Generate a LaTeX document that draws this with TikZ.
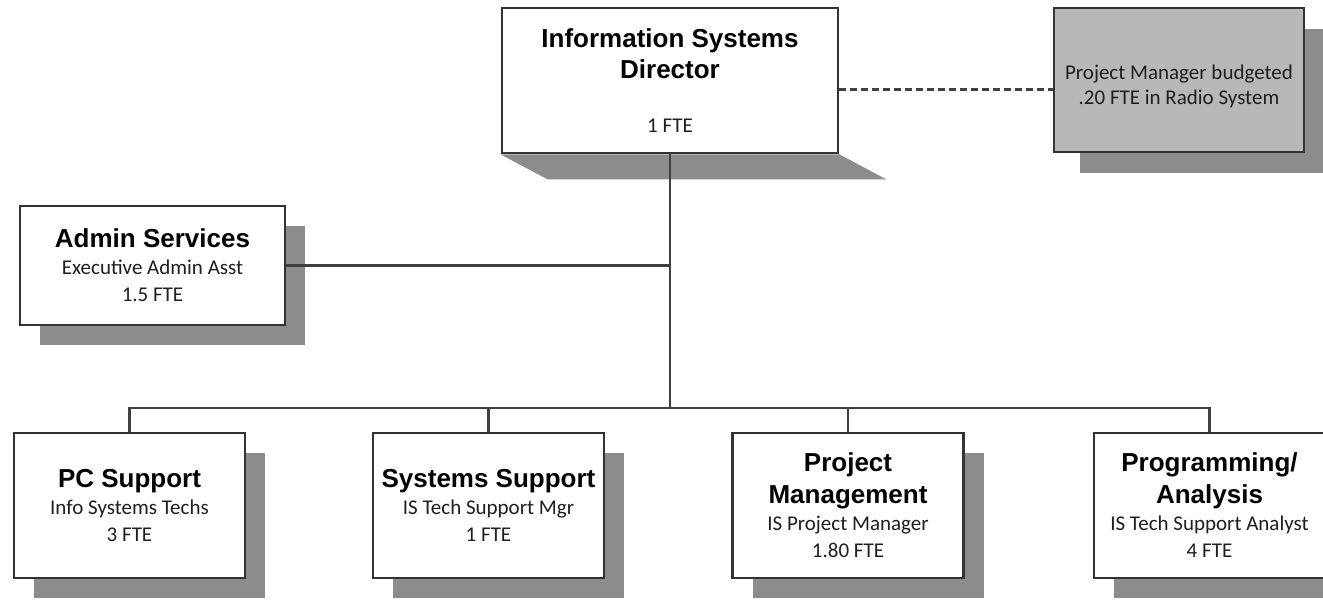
\documentclass[tikz,border=0pt]{standalone}
\usepackage{fontspec}
\setmainfont{Carlito}
\newfontfamily\headfont{Liberation Sans}
\usetikzlibrary{calc,shadows,backgrounds}

\definecolor{boxline}{RGB}{51,51,51}
\definecolor{linkline}{RGB}{64,64,64}
\definecolor{shadowgray}{RGB}{140,140,140}
\definecolor{notefill}{RGB}{184,184,184}

\newcommand{\unithead}{\headfont\bfseries\fontsize{26}{27}\selectfont\color{black}}
\newcommand{\unitbody}{\normalfont\fontsize{21}{27}\selectfont\color{black!88}}

\begin{document}
\begin{tikzpicture}[x=1pt,y=-1pt,
  unitbox/.style={draw=boxline, line width=2.8pt, fill=white, inner sep=0pt, align=center,
    font=\unitbody, minimum width=231pt, minimum height=145pt},
  shadowed/.style={drop shadow={shadow xshift=20pt, shadow yshift=-20pt, fill=shadowgray, opacity=1}},
  link/.style={draw=linkline, line width=2.2pt}]
  \useasboundingbox (0,0) rectangle (1323,601);

  \node[unitbox, minimum width=336pt] (dir) at (670,80.5)
    {{\unithead Information Systems}\\[4pt]{\unithead Director}\\[27pt]1 FTE};
  \node[unitbox, fill=notefill, minimum width=250pt, minimum height=144pt,
    font=\normalfont\fontsize{21}{25}\selectfont\color{black!88},
    drop shadow={shadow xshift=26pt, shadow yshift=-21pt, fill=shadowgray, opacity=1}] (note) at (1179,80)
    {\rule{0pt}{28pt}Project Manager budgeted\\.20 FTE in Radio System};
  \node[unitbox, shadowed, minimum width=265pt, minimum height=119pt] (admin) at (152.5,265.5)
    {{\unithead Admin Services}\\Executive Admin Asst\\1.5 FTE};

  \node[unitbox, shadowed] (pc) at (129.5,505.5)
    {{\unithead PC Support}\\Info Systems Techs\\3 FTE};
  \node[unitbox, shadowed] (sys) at (488.5,505.5)
    {{\unithead Systems Support}\\IS Tech Support Mgr\\1 FTE};
  \node[unitbox, shadowed] (pm) at (848,505.5)
    {{\unithead Project}\\[5pt]{\unithead Management}\\IS Project Manager\\1.80 FTE};
  \node[unitbox, shadowed] (prog) at (1209.5,505.5)
    {{\unithead Programming/}\\[5pt]{\unithead Analysis}\\IS Tech Support Analyst\\4 FTE};

  \begin{scope}[on background layer]
    \fill[shadowgray] (dir.south west) -- (dir.south east) -- ++(47,25)
      -- ($(dir.south west)+(47,25)$) -- cycle;
  \end{scope}

  \coordinate (bus) at (670,408);
  \coordinate (dotted) at ($(dir.east)+(0,9)$);

  \draw[link] (dir.south) -- (bus);
  \draw[link] (admin.east) -- (admin.east -| dir.south);
  \draw[link] (pc.north) -- (pc.north |- bus) -- (prog.north |- bus) -- (prog.north);
  \foreach \n in {sys,pm}
  {
  \draw[link] (\n.north |- bus) -- (\n.north);
  }
  \draw[link, line width=3pt, dash pattern=on 7pt off 4pt] (dotted) -- (dotted -| note.west);

\end{tikzpicture}
\end{document}
